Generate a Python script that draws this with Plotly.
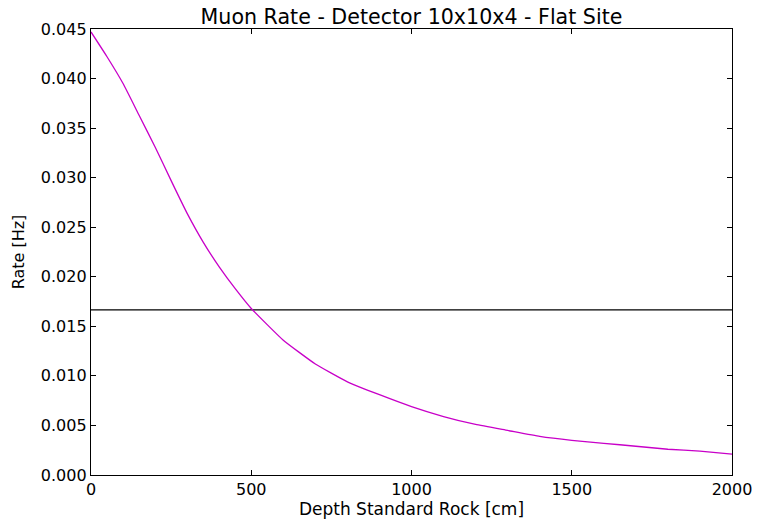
import plotly.graph_objects as go

# Muon rate versus rock overburden for a 10x10x4 detector at a flat site
depth_cm = [0, 50, 100, 150, 200, 250, 300, 350, 400, 450, 500,
            600, 700, 800, 900, 1000, 1100, 1200, 1300, 1400, 1500,
            1600, 1700, 1800, 1900, 2000]
rate_hz = [0.0447, 0.0422, 0.0395, 0.0363, 0.0331, 0.0297, 0.0264,
           0.0235, 0.0210, 0.0188, 0.0168, 0.0136, 0.0112, 0.0094,
           0.0081, 0.0069, 0.0059, 0.0051, 0.0045, 0.0039, 0.0035,
           0.0032, 0.0029, 0.0026, 0.0024, 0.0021]

# reference level: one muon per minute
threshold_hz = 1.0 / 60.0
threshold_x = [0, 2000]

x_ticks = [0, 500, 1000, 1500, 2000]
y_ticks = [0.000, 0.005, 0.010, 0.015, 0.020, 0.025, 0.030, 0.035, 0.040, 0.045]

FONT = "DejaVu Sans"

fig = go.Figure()
fig.add_trace(go.Scatter(
    x=threshold_x, y=[threshold_hz] * len(threshold_x),
    mode="lines", line=dict(color="black", width=1.3),
    showlegend=False, hoverinfo="skip",
))
fig.add_trace(go.Scatter(
    x=depth_cm, y=rate_hz, mode="lines",
    line=dict(color="#c800c8", width=1.3, shape="spline", smoothing=0.4),
    showlegend=False,
))

axis_common = dict(
    showline=True, linecolor="black", linewidth=1.3, mirror="allticks",
    ticks="inside", ticklen=5, tickwidth=1, tickcolor="black",
    showgrid=False, zeroline=False, automargin=False,
    tickfont=dict(family=FONT, size=16, color="black"),
)

fig.update_layout(
    width=757, height=524,
    margin=dict(l=91, r=25, t=29, b=49),
    paper_bgcolor="white", plot_bgcolor="white",
    title=dict(
        text="Muon Rate - Detector 10x10x4 - Flat Site",
        font=dict(family=FONT, size=20.6, color="black"),
        x=0.5, xanchor="center", xref="paper",
        y=1, yref="paper", yanchor="bottom", pad=dict(b=5),
    ),
    xaxis=dict(
        range=[0, 2000], tickvals=x_ticks,
        title=dict(text="Depth Standard Rock [cm]",
                   font=dict(family=FONT, size=17, color="black"),
                   standoff=4),
        **axis_common,
    ),
    yaxis=dict(
        range=[0, 0.045], tickvals=y_ticks, tickformat=".3f",
        title=dict(text="Rate [Hz]",
                   font=dict(family=FONT, size=16, color="black"),
                   standoff=12),
        **axis_common,
    ),
)

fig.write_html("out.html")
